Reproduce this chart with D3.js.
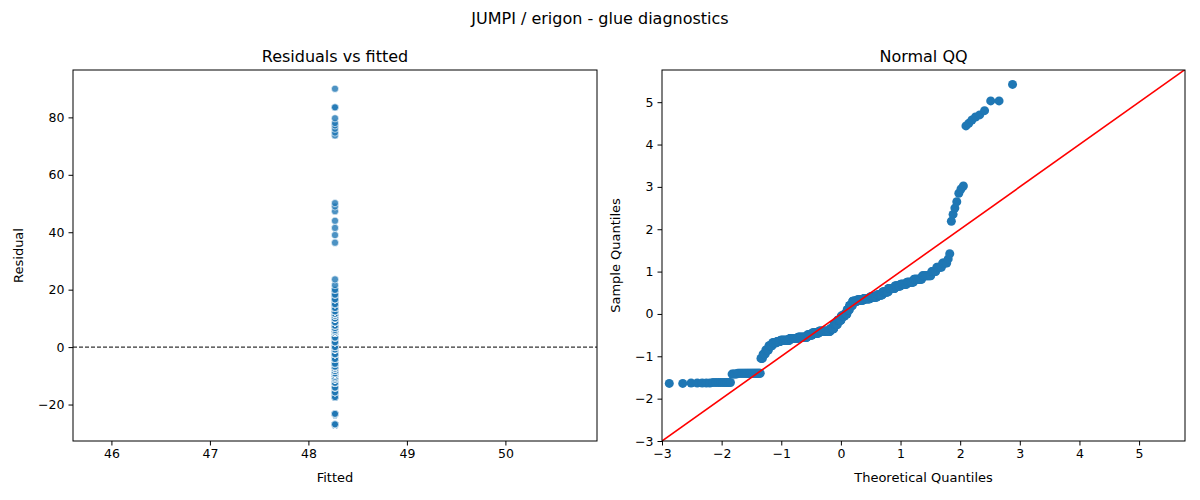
<!DOCTYPE html>
<html><head><meta charset="utf-8">
<script src="https://cdn.jsdelivr.net/npm/d3@7"></script>
<style>body{margin:0;background:#fff}text{font-family:"DejaVu Sans",sans-serif;fill:#000}</style>
</head><body><svg id="c" width="1200" height="500"></svg>
<script>
// standardized residual values (sorted) and how many observations share each
const sampleValues = [-1.64,-1.63,-1.62,-1.42,-1.40,-1.05,-0.95,-0.85,-0.75,-0.68,-0.65,-0.62,-0.58,-0.55,-0.50,-0.45,-0.41,-0.35,-0.25,-0.15,-0.05,0.0,0.10,0.20,0.30,0.33,0.36,0.40,0.45,0.52,0.60,0.66,0.70,0.75,0.82,0.90,1.00,1.10,1.20,1.30,1.42,2.19,2.35,2.50,2.65,2.85,2.95,3.02,4.44,4.50,4.58,4.65,4.70,4.80,5.03,5.42];
const sampleCounts = [2,5,9,4,24,3,4,5,6,8,7,20,20,25,15,20,37,12,12,12,12,8,8,10,15,20,20,20,15,15,15,12,12,12,12,11,5,5,4,1,1,1,1,1,1,1,1,1,1,1,1,1,1,1,2,1];
const fittedValue = 48.27;
const residualSD = 16.6;
const leftXTicks = [46,47,48,49,50];
const leftYTicks = [-20,0,20,40,60,80];
const qqTicks = [-3,-2,-1,0,1,2,3,4,5];

function invNorm(p){
  const a=[-3.969683028665376e+01,2.209460984245205e+02,-2.759285104469687e+02,1.383577518672690e+02,-3.066479806614716e+01,2.506628277459239e+00];
  const b=[-5.447609879822406e+01,1.615858368580409e+02,-1.556989798598866e+02,6.680131188771972e+01,-1.328068155288572e+01];
  const c=[-7.784894002430293e-03,-3.223964580411365e-01,-2.400758277161838e+00,-2.549732539343734e+00,4.374664141464968e+00,2.938163982698783e+00];
  const d=[7.784695709041462e-03,3.224671290700398e-01,2.445134137142996e+00,3.754408661907416e+00];
  const pl=0.02425;let q,r;
  if(p<pl){q=Math.sqrt(-2*Math.log(p));return (((((c[0]*q+c[1])*q+c[2])*q+c[3])*q+c[4])*q+c[5])/((((d[0]*q+d[1])*q+d[2])*q+d[3])*q+1);}
  if(p>1-pl){q=Math.sqrt(-2*Math.log(1-p));return -(((((c[0]*q+c[1])*q+c[2])*q+c[3])*q+c[4])*q+c[5])/((((d[0]*q+d[1])*q+d[2])*q+d[3])*q+1);}
  q=p-0.5;r=q*q;return (((((a[0]*r+a[1])*r+a[2])*r+a[3])*r+a[4])*r+a[5])*q/(((((b[0]*r+b[1])*r+b[2])*r+b[3])*r+b[4])*r+1);
}
const sample=[];sampleValues.forEach((v,i)=>{for(let k=0;k<sampleCounts[i];k++)sample.push(v);});
const n=sample.length;
const qq=sample.map((s,i)=>({t:invNorm((i+1)/(n+1)),s}));
const resid=sample.map(s=>s*residualSD);

const svg=d3.select("#c");
svg.append("text").attr("x",600).attr("y",24).attr("text-anchor","middle").style("font-size","16px").text("JUMPI / erigon - glue diagnostics");

function panel(L,R,T,B,xd,yd,xt,yt,title,xl,yl){
  const x=d3.scaleLinear().domain(xd).range([L,R]);
  const y=d3.scaleLinear().domain(yd).range([B,T]);
  const g=svg.append("g");
  g.append("text").attr("x",(L+R)/2).attr("y",T-8).attr("text-anchor","middle").style("font-size","16px").text(title);
  const ax=g.append("g").attr("transform",`translate(0,${B})`).call(d3.axisBottom(x).tickValues(xt).tickSize(4.5).tickPadding(4).tickFormat(d3.format("d")));
  const ay=g.append("g").attr("transform",`translate(${L},0)`).call(d3.axisLeft(y).tickValues(yt).tickSize(4.5).tickPadding(4).tickFormat(d=>String(d).replace("-","\u2212")));
  [ax,ay].forEach(a=>{a.select(".domain").remove();a.selectAll("text").style("font-size","12.5px").attr("fill","#000");a.selectAll("line").attr("stroke","#000");});
  g.append("text").attr("x",(L+R)/2).attr("y",B+41).attr("text-anchor","middle").style("font-size","13px").text(xl);
  g.append("text").attr("transform",`translate(${L-ylOff(L)},${(T+B)/2}) rotate(-90)`).attr("text-anchor","middle").style("font-size","13px").text(yl);
  const id="clip"+L;
  svg.append("clipPath").attr("id",id).append("rect").attr("x",L).attr("y",T).attr("width",R-L).attr("height",B-T);
  const plot=svg.append("g").attr("clip-path",`url(#${id})`);
  return {x,y,plot,frame:()=>svg.append("rect").attr("x",L).attr("y",T).attr("width",R-L).attr("height",B-T).attr("fill","none").attr("stroke","#000").attr("stroke-width",1)};
}
function ylOff(L){return L<100?50:42;}

const p1=panel(73,597,70,441,[45.61,50.93],[-32.7,96.5],leftXTicks,leftYTicks,"Residuals vs fitted","Fitted","Residual");
p1.plot.append("line").attr("x1",73).attr("x2",597).attr("y1",p1.y(0)).attr("y2",p1.y(0)).attr("stroke","#000").attr("stroke-dasharray","4,2").attr("stroke-width",1);
p1.plot.selectAll("circle").data(resid).join("circle").attr("cx",p1.x(fittedValue)).attr("cy",d=>p1.y(d)).attr("r",3.6).attr("fill","#1f77b4").attr("fill-opacity",0.8).attr("stroke","#fff").attr("stroke-width",0.6);
p1.frame();

const p2=panel(662,1185,70,441,[-3,5.77],[-3,5.76],qqTicks,qqTicks,"Normal QQ","Theoretical Quantiles","Sample Quantiles");
p2.plot.selectAll("circle").data(qq).join("circle").attr("cx",d=>p2.x(d.t)).attr("cy",d=>p2.y(d.s)).attr("r",4.5).attr("fill","#1f77b4");
p2.plot.append("line").attr("x1",p2.x(-3)).attr("y1",p2.y(-3)).attr("x2",p2.x(6)).attr("y2",p2.y(6)).attr("stroke","red").attr("stroke-width",1.6);
p2.frame();
</script></body></html>
